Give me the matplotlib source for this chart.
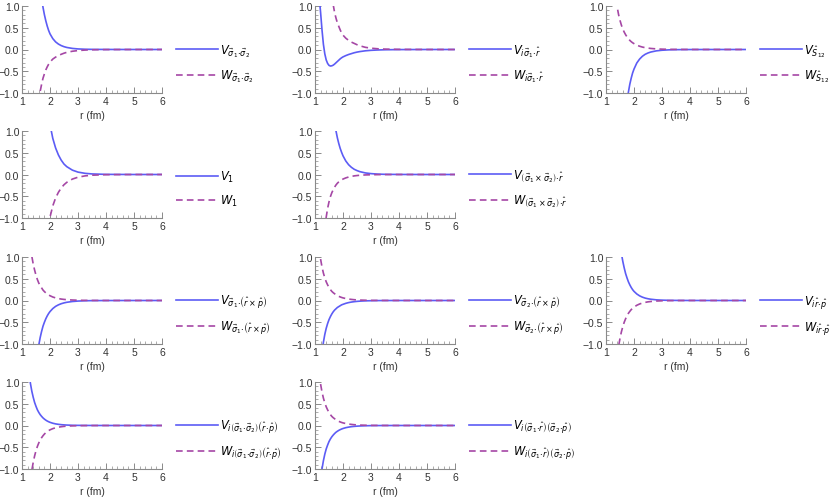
import numpy as np
import matplotlib
matplotlib.use("Agg")
import matplotlib.pyplot as plt
from matplotlib.ticker import MultipleLocator

N = float('nan')

# r grid (fm)
R = [1.0, 1.05, 1.1, 1.15, 1.2, 1.25, 1.3, 1.35, 1.4, 1.45, 1.5, 1.55, 1.6, 1.65,
     1.7, 1.75, 1.8, 1.85, 1.9, 1.95, 2.0, 2.1, 2.2, 2.3, 2.4, 2.5, 2.6, 2.8,
     3.0, 3.25, 3.5, 4.0, 5.0, 6.0]

# values; each list ends at r = 6.0 (aligned to end of R)
V_s1s2 = [1.7, 1.4, 1.17, 0.97, 0.80, 0.66, 0.54, 0.44, 0.36, 0.25, 0.175, 0.125,
          0.09, 0.065, 0.047, 0.025, 0.013, 0.006, 0.003, 0.001, 0, 0]
W_s1s2 = [-1.2, -0.96, -0.8, -0.66, -0.56, -0.47, -0.40, -0.34, -0.29, -0.22, -0.175,
          -0.14, -0.11, -0.085, -0.065, -0.04, -0.025, -0.013, -0.007, -0.002, 0, 0]

V_is1r = [1.6, 1.2, 0.85, 0.45, 0.12, -0.1, -0.24, -0.32, -0.365, -0.38, -0.375,
          -0.36, -0.335, -0.305, -0.275, -0.245, -0.215, -0.19, -0.17, -0.14, -0.115,
          -0.095, -0.075, -0.06, -0.048, -0.03, -0.019, -0.011, -0.006, -0.002, 0, 0]
W_is1r = [1.03, 0.85, 0.72, 0.61, 0.53, 0.45, 0.38, 0.33, 0.26, 0.21, 0.17, 0.14,
          0.11, 0.085, 0.05, 0.03, 0.016, 0.009, 0.003, 0, 0]

V_S12 = [-1.2, -0.98, -0.80, -0.66, -0.54, -0.45, -0.31, -0.22, -0.155, -0.11, -0.08,
         -0.058, -0.031, -0.017, -0.008, -0.004, -0.001, 0, 0]
W_S12 = [1.2, 0.97, 0.80, 0.67, 0.56, 0.47, 0.40, 0.34, 0.29, 0.25, 0.21, 0.18, 0.155,
         0.135, 0.10, 0.075, 0.056, 0.042, 0.032, 0.024, 0.014, 0.008, 0.004, 0.002,
         0.0005, 0, 0]

V_1 = [1.35, 1.15, 0.83, 0.61, 0.45, 0.33, 0.24, 0.18, 0.10, 0.055, 0.027, 0.013,
       0.003, 0, 0]
W_1 = [-1.2, -0.98, -0.72, -0.54, -0.41, -0.31, -0.235, -0.18, -0.105, -0.062,
       -0.032, -0.016, -0.004, 0, 0]

V_s1xs2r = [1.2, 1.0, 0.84, 0.71, 0.60, 0.51, 0.43, 0.31, 0.225, 0.165, 0.12, 0.09,
            0.066, 0.036, 0.02, 0.009, 0.004, 0.001, 0, 0]
W_s1xs2r = [-1.25, -0.98, -0.78, -0.63, -0.51, -0.42, -0.35, -0.29, -0.24, -0.20,
            -0.17, -0.145, -0.125, -0.105, -0.078, -0.058, -0.043, -0.032, -0.024,
            -0.018, -0.01, -0.006, -0.003, -0.0015, 0, 0, 0]

V_s1rxp = [-1.25, -1.02, -0.85, -0.71, -0.59, -0.50, -0.42, -0.355, -0.30, -0.255,
           -0.185, -0.135, -0.10, -0.074, -0.055, -0.041, -0.023, -0.013, -0.006,
           -0.003, -0.001, 0, 0]
W_s1rxp = [1.25, 1.02, 0.84, 0.70, 0.58, 0.48, 0.40, 0.34, 0.29, 0.24, 0.205, 0.175,
           0.15, 0.128, 0.11, 0.08, 0.06, 0.044, 0.033, 0.025, 0.019, 0.011, 0.006,
           0.003, 0.0015, 0, 0, 0]

V_s2rxp = [-1.2, -0.96, -0.78, -0.64, -0.53, -0.44, -0.37, -0.31, -0.26, -0.22, -0.19,
           -0.16, -0.14, -0.12, -0.10, -0.088, -0.065, -0.048, -0.036, -0.027, -0.02,
           -0.015, -0.008, -0.005, -0.002, -0.001, 0, 0, 0]
W_s2rxp = [1.2, 0.95, 0.77, 0.63, 0.52, 0.43, 0.36, 0.30, 0.25, 0.21, 0.18, 0.155,
           0.13, 0.11, 0.095, 0.082, 0.07, 0.06, 0.045, 0.033, 0.025, 0.018, 0.014,
           0.01, 0.006, 0.003, 0.0015, 0.0007, 0, 0, 0]

V_irp = [1.3, 1.08, 0.90, 0.75, 0.62, 0.52, 0.43, 0.36, 0.30, 0.25, 0.21, 0.15, 0.107,
         0.077, 0.055, 0.04, 0.029, 0.015, 0.008, 0.004, 0.002, 0.0005, 0, 0]
W_irp = [-1.27, -1.05, -0.87, -0.72, -0.60, -0.50, -0.42, -0.35, -0.295, -0.25, -0.21,
         -0.18, -0.153, -0.11, -0.08, -0.058, -0.043, -0.031, -0.023, -0.012, -0.007,
         -0.003, -0.0015, 0, 0, 0]

V_is1s2rp = [1.2, 0.97, 0.79, 0.65, 0.53, 0.44, 0.36, 0.30, 0.25, 0.21, 0.175, 0.147,
             0.123, 0.103, 0.087, 0.073, 0.052, 0.037, 0.027, 0.019, 0.014, 0.01,
             0.005, 0.003, 0.0015, 0.0007, 0, 0, 0]
W_is1s2rp = [-1.25, -1.03, -0.85, -0.70, -0.58, -0.48, -0.40, -0.335, -0.28, -0.235,
             -0.197, -0.166, -0.14, -0.118, -0.10, -0.072, -0.052, -0.038, -0.028,
             -0.02, -0.015, -0.008, -0.0045, -0.002, -0.001, 0, 0, 0]

V_is1rs2p = [-1.25, -1.0, -0.81, -0.66, -0.54, -0.45, -0.37, -0.31, -0.26, -0.22,
             -0.185, -0.155, -0.132, -0.112, -0.095, -0.081, -0.069, -0.05, -0.037,
             -0.027, -0.02, -0.015, -0.011, -0.006, -0.003, -0.0015, -0.0007, 0, 0, 0]
W_is1rs2p = [1.2, 0.95, 0.77, 0.63, 0.52, 0.43, 0.36, 0.30, 0.25, 0.21, 0.18, 0.155,
             0.13, 0.11, 0.095, 0.082, 0.07, 0.06, 0.045, 0.033, 0.025, 0.018, 0.014,
             0.01, 0.006, 0.003, 0.0015, 0.0007, 0, 0, 0]

SUBS = [r"\vec{\sigma}_1\!\cdot\!\vec{\sigma}_2",
        r"i\vec{\sigma}_1\!\cdot\!\hat{r}",
        r"\hat{S}_{12}",
        r"1",
        r"\left(\vec{\sigma}_1\times\vec{\sigma}_2\right)\!\cdot\!\hat{r}",
        r"\vec{\sigma}_1\!\cdot\!\left(\hat{r}\times\hat{p}\right)",
        r"\vec{\sigma}_2\!\cdot\!\left(\hat{r}\times\hat{p}\right)",
        r"i\hat{r}\!\cdot\!\hat{p}",
        r"i\left(\vec{\sigma}_1\!\cdot\!\vec{\sigma}_2\right)\left(\hat{r}\!\cdot\!\hat{p}\right)",
        r"i\left(\vec{\sigma}_1\!\cdot\!\hat{r}\right)\left(\vec{\sigma}_2\!\cdot\!\hat{p}\right)"]

PANELS = [(0, 0, V_s1s2, W_s1s2), (0, 1, V_is1r, W_is1r), (0, 2, V_S12, W_S12),
          (1, 0, V_1, W_1), (1, 1, V_s1xs2r, W_s1xs2r),
          (2, 0, V_s1rxp, W_s1rxp), (2, 1, V_s2rxp, W_s2rxp), (2, 2, V_irp, W_irp),
          (3, 0, V_is1s2rp, W_is1s2rp), (3, 1, V_is1rs2p, W_is1rs2p)]

BLUE = "#5c5cf5"
PURPLE = "#a547a5"

plt.rcParams['font.family'] = ['Liberation Sans', 'DejaVu Sans']
plt.rcParams['mathtext.fontset'] = 'dejavusans'

W_PX, H_PX = 830, 502
fig = plt.figure(figsize=(W_PX / 100, H_PX / 100), dpi=100)

col_left = [22, 315, 606]
row_top = [7, 132, 258, 383]
aw, ah = 140, 87


def pad(vals):
    return [N] * (len(R) - len(vals)) + list(vals)


for k, (ri, ci, vv, ww) in enumerate(PANELS):
    l = col_left[ci] / W_PX
    b = 1 - (row_top[ri] + ah) / H_PX
    ax = fig.add_axes([l, b, aw / W_PX, ah / H_PX])
    ax.plot(R, pad(vv), color=BLUE, lw=1.2, label=rf"$V_{{{SUBS[k]}}}$")
    ax.plot(R, pad(ww), color=PURPLE, lw=1.2, ls=(0, (4, 2.5)),
            label=rf"$W_{{{SUBS[k]}}}$")
    ax.set_xlim(1, 6)
    ax.set_ylim(-1, 1)
    ax.xaxis.set_major_locator(MultipleLocator(1))
    ax.xaxis.set_minor_locator(MultipleLocator(0.2))
    ax.yaxis.set_major_locator(MultipleLocator(0.5))
    ax.yaxis.set_minor_locator(MultipleLocator(0.1))
    ax.yaxis.set_major_formatter(matplotlib.ticker.FuncFormatter(
        lambda v, p: f"{v:.1f}".replace("-", "\u2212")))
    for s in ("top", "right"):
        ax.spines[s].set_visible(False)
    for s in ("left", "bottom"):
        ax.spines[s].set_color("#8a8a8a")
        ax.spines[s].set_linewidth(0.8)
    ax.tick_params(which="major", direction="in", length=4, width=0.7,
                   color="#8a8a8a", labelsize=7.5, labelcolor="#333333", pad=2)
    ax.tick_params(which="minor", direction="in", length=2, width=0.5,
                   color="#8a8a8a")
    ax.set_xlabel("r (fm)", fontsize=7.5, color="#333333", labelpad=3)
    ax.legend(loc="center left", bbox_to_anchor=(1.1, 0.34), frameon=False,
              fontsize=8.3, handlelength=3.6, handletextpad=0.25,
              borderaxespad=0, borderpad=0, labelspacing=0.75)

fig.savefig("out.png", dpi=100)
